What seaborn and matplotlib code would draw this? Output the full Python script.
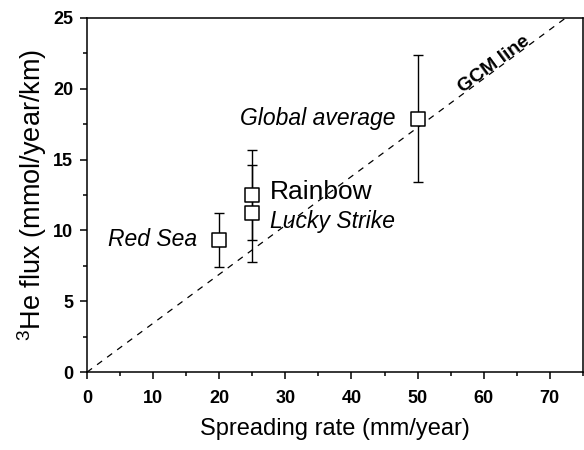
import matplotlib
matplotlib.use("Agg")
import matplotlib.pyplot as plt
import numpy as np
import pandas as pd
import seaborn as sns
from matplotlib.ticker import MultipleLocator

# Data
sites = ["Red Sea", "Rainbow", "Lucky Strike", "Global average"]
spreading_rate = [20, 25, 25, 50]
he_flux = [9.35, 12.5, 11.2, 17.9]
flux_err = [1.9, 3.15, 3.4, 4.5]

gcm_x = [0, 75]
gcm_y = [0, 25.9]

df = pd.DataFrame({"site": sites, "rate": spreading_rate, "flux": he_flux, "err": flux_err})
gcm = pd.DataFrame({"x": gcm_x, "y": gcm_y})

sns.set_style("ticks")
plt.rcParams['font.family'] = ['Liberation Sans', 'DejaVu Sans']
plt.rcParams['mathtext.fontset'] = 'custom'
plt.rcParams['mathtext.rm'] = 'Liberation Sans'
plt.rcParams['text.color'] = 'black'
plt.rcParams['axes.labelcolor'] = 'black'
plt.rcParams['xtick.color'] = 'black'
plt.rcParams['ytick.color'] = 'black'

fig = plt.figure(figsize=(5.84, 4.5), dpi=100)
ax = fig.add_axes([0.149, 0.173, 0.849, 0.787])

# GCM line
sns.lineplot(data=gcm, x="x", y="y", ax=ax, color="black", lw=0.9,
             linestyle=(0, (5, 5)), legend=False)

# error bars then open squares
ax.errorbar(df["rate"], df["flux"], yerr=df["err"], fmt="none", ecolor="black",
            elinewidth=1.0, capsize=3.8, capthick=1.0, zorder=2)
sns.scatterplot(data=df, x="rate", y="flux", ax=ax, marker="s", s=110,
                facecolor="white", edgecolor="black", linewidth=1.1, zorder=3)

# labels for each site
ax.text(3.2, 9.35, "Red Sea", style="italic", fontsize=16.5, va="center", ha="left")
ax.text(27.7, 12.7, "Rainbow", fontsize=19, va="center", ha="left")
ax.text(27.7, 10.6, "Lucky Strike", style="italic", fontsize=16.5, va="center", ha="left")
ax.text(46.6, 17.9, "Global average", style="italic", fontsize=16.5, va="center", ha="right")
ax.text(62.0, 21.5, "GCM line", fontweight="bold", fontsize=14, rotation=36.5,
        ha="center", va="baseline", rotation_mode="anchor")

ax.set_xlim(0, 75)
ax.set_ylim(0, 25)
ax.xaxis.set_major_locator(MultipleLocator(10))
ax.xaxis.set_minor_locator(MultipleLocator(5))
ax.yaxis.set_major_locator(MultipleLocator(5))
ax.yaxis.set_minor_locator(MultipleLocator(2.5))
ax.tick_params(which="major", direction="out", length=5, width=1.1, labelsize=13)
ax.tick_params(axis="x", which="major", pad=8)
ax.tick_params(axis="y", which="major", pad=5)
ax.tick_params(which="minor", direction="out", length=3, width=1.1)
for lab in ax.get_xticklabels() + ax.get_yticklabels():
    lab.set_fontweight("bold")
for sp in ax.spines.values():
    sp.set_linewidth(1.1)
    sp.set_color("black")

ax.set_xlabel("Spreading rate (mm/year)", fontsize=17, labelpad=8)
ax.set_ylabel(r"$^{3}$He flux (mmol/year/km)", fontsize=19.5, labelpad=3)

fig.savefig("out.png", dpi=100)
